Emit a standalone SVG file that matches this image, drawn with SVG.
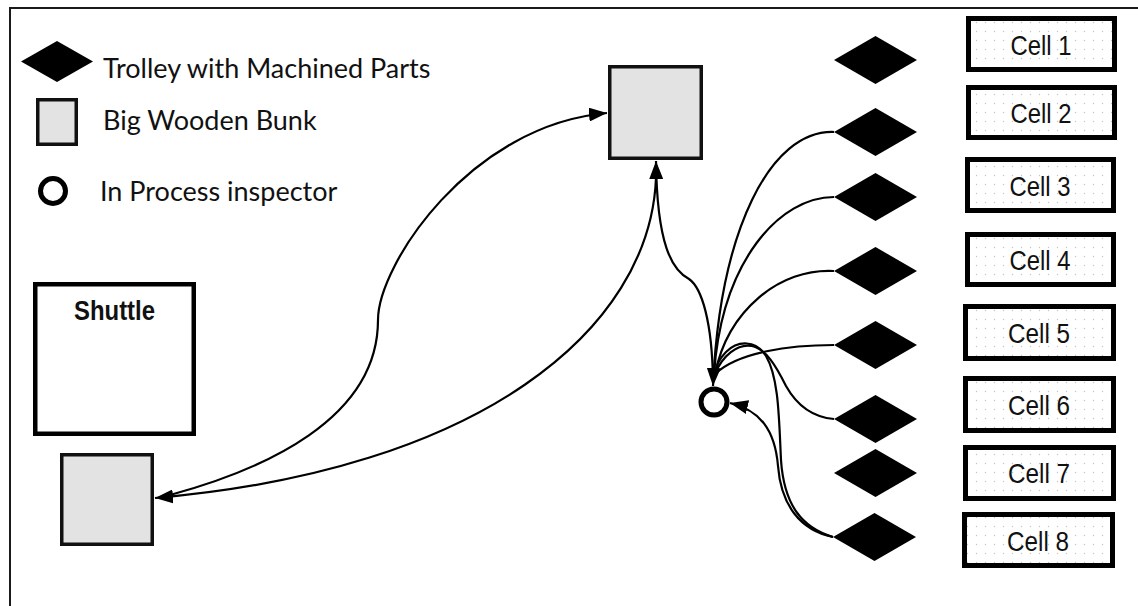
<svg xmlns="http://www.w3.org/2000/svg" width="1138" height="606" viewBox="0 0 1138 606">
  <style>
    .frame { fill: none; stroke: #1a1a1a; stroke-width: 2; }
    .trolley { fill: #000; }
    .bunk { fill: #e3e3e3; stroke: #111; stroke-width: 3.5; }
    .inspector { fill: #fff; stroke: #000; stroke-width: 5; }
    .cell { fill: url(#dots); stroke: #000; stroke-width: 5; }
    .shuttle { fill: #fff; stroke: #000; stroke-width: 4.5; }
    .legend { font-family: Lato, "Open Sans", sans-serif; font-size: 27px; fill: #111; }
    .cellText { font-family: "Liberation Sans", Arial, sans-serif; font-size: 28px; fill: #111; text-anchor: middle; }
    .shuttleText { font-family: "Liberation Sans", Arial, sans-serif; font-size: 28px; font-weight: bold; fill: #111; text-anchor: middle; }
    .link { fill: none; stroke: #000; stroke-width: 2.2; }
  </style>
  <defs>
    <pattern id="dots" width="9" height="9" patternUnits="userSpaceOnUse">
      <rect width="9" height="9" fill="#fff"/>
      <circle cx="4.5" cy="4.5" r="0.7" fill="#c4c4c4"/>
    </pattern>
    <marker id="arrow" markerUnits="userSpaceOnUse" markerWidth="18" markerHeight="14" refX="18" refY="7" orient="auto">
      <path d="M0,0 L18,7 L0,14 Z" fill="#000"/>
    </marker>
  </defs>

  <rect width="1138" height="606" fill="#fff"/>
  <!-- outer frame (top and left edges) -->
  <path class="frame" d="M10,606 L10,8 L1138,8"/>

  <!-- legend -->
  <g id="legend">
    <polygon class="trolley" points="21,61.5 57,41 93,61.5 57,82"/>
    <text class="legend" x="103" y="78">Trolley with Machined Parts</text>
    <rect class="bunk" x="37.75" y="99.75" width="38.5" height="44.5"/>
    <text class="legend" x="103" y="130">Big Wooden Bunk</text>
    <circle class="inspector" cx="53" cy="191" r="12.5"/>
    <text class="legend" x="100" y="201">In Process inspector</text>
  </g>

  <!-- shuttle and bunks -->
  <g id="shuttle">
    <rect class="shuttle" x="35.25" y="284.25" width="158.5" height="149.5"/>
    <text class="shuttleText" x="114.5" y="320" textLength="81" lengthAdjust="spacingAndGlyphs">Shuttle</text>
  </g>
  <g id="bunk-shuttle">
    <rect class="bunk" x="61.75" y="454.75" width="90.5" height="89.5"/>
  </g>
  <g id="bunk-main">
    <rect class="bunk" x="609.75" y="66.75" width="91.5" height="91.5"/>
  </g>

  <!-- in-process inspector -->
  <g id="inspector">
    <circle class="inspector" cx="714" cy="402" r="13"/>
  </g>

  <!-- trolleys in front of the cells -->
  <g id="trolley-1"><polygon class="trolley" points="834,60 875.5,36 917,60 875.5,84"/></g>
  <g id="trolley-2"><polygon class="trolley" points="834,132 875.5,108 917,132 875.5,156"/></g>
  <g id="trolley-3"><polygon class="trolley" points="834,197 875.5,173 917,197 875.5,221"/></g>
  <g id="trolley-4"><polygon class="trolley" points="834,271 875.5,247 917,271 875.5,295"/></g>
  <g id="trolley-5"><polygon class="trolley" points="834,345 875.5,321 917,345 875.5,369"/></g>
  <g id="trolley-6"><polygon class="trolley" points="834,419 875.5,395 917,419 875.5,443"/></g>
  <g id="trolley-7"><polygon class="trolley" points="834,473 875.5,449 917,473 875.5,497"/></g>
  <g id="trolley-8"><polygon class="trolley" points="833,537 874.5,513 916,537 874.5,561"/></g>

  <!-- machining cells -->
  <g id="cell-1">
    <rect class="cell" x="968.5" y="18.5" width="146" height="51"/>
    <text class="cellText" x="1041" y="55" textLength="61" lengthAdjust="spacingAndGlyphs">Cell 1</text>
  </g>
  <g id="cell-2">
    <rect class="cell" x="968.5" y="87.5" width="146" height="50"/>
    <text class="cellText" x="1041" y="123" textLength="61" lengthAdjust="spacingAndGlyphs">Cell 2</text>
  </g>
  <g id="cell-3">
    <rect class="cell" x="967.5" y="159.5" width="146" height="51"/>
    <text class="cellText" x="1040" y="196" textLength="61" lengthAdjust="spacingAndGlyphs">Cell 3</text>
  </g>
  <g id="cell-4">
    <rect class="cell" x="967.5" y="234.5" width="146" height="50"/>
    <text class="cellText" x="1040" y="270" textLength="61" lengthAdjust="spacingAndGlyphs">Cell 4</text>
  </g>
  <g id="cell-5">
    <rect class="cell" x="965.5" y="306.5" width="148" height="52"/>
    <text class="cellText" x="1039" y="343" textLength="62" lengthAdjust="spacingAndGlyphs">Cell 5</text>
  </g>
  <g id="cell-6">
    <rect class="cell" x="965.5" y="378.5" width="148" height="52"/>
    <text class="cellText" x="1039" y="415" textLength="62" lengthAdjust="spacingAndGlyphs">Cell 6</text>
  </g>
  <g id="cell-7">
    <rect class="cell" x="965.5" y="447.5" width="148" height="51"/>
    <text class="cellText" x="1039" y="483" textLength="62" lengthAdjust="spacingAndGlyphs">Cell 7</text>
  </g>
  <g id="cell-8">
    <rect class="cell" x="964.5" y="514.5" width="148" height="51"/>
    <text class="cellText" x="1038" y="551" textLength="62" lengthAdjust="spacingAndGlyphs">Cell 8</text>
  </g>

  <!-- material flow -->
  <g id="connectors">
    <!-- shuttle bunk up to the main bunk -->
    <path class="link" d="M170,495 C262,470 378,420 378,320 C378,265 470,125 607,113" marker-end="url(#arrow)"/>
    <!-- main bunk back to the shuttle bunk -->
    <path class="link" d="M656,178 C650,330 480,470 155,498" marker-end="url(#arrow)"/>
    <!-- inspector to the main bunk -->
    <path class="link" d="M713,380 C712,322 702,288 689,279 C672,270 657,245 656,161" marker-end="url(#arrow)"/>
    <!-- trolleys to the inspector -->
    <path class="link" d="M834,132 C770,130 720,230 713,386" marker-end="url(#arrow)"/>
    <path class="link" d="M834,197 C780,197 722,260 714,374"/>
    <path class="link" d="M834,271 C780,268 728,310 715,374"/>
    <path class="link" d="M834,345 C790,345 738,352 715,374"/>
    <path class="link" d="M834,419 C810,417 795,402 786,386 C776,366 766,349 752,346 C738,343 722,356 715,374"/>
    <path class="link" d="M833,537 C802,528 784,505 781,460 C779,420 779,378 766,356 C756,340 738,340 726,352 C720,358 716,366 715,374"/>
    <path class="link" d="M833,537 C800,530 781,505 778,466 C775,430 760,410 730,403" marker-end="url(#arrow)"/>
  </g>
</svg>
